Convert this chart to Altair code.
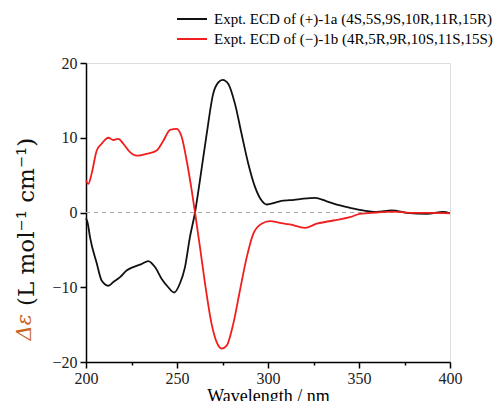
import altair as alt
import pandas as pd

wl_a = [200, 201, 202.2, 205.9, 208.6, 212.3, 215, 218.7, 222.3, 226, 230.5, 234.2, 237.9, 241.6,
        245.2, 248.4, 251.6, 254.4, 257.1, 259.9, 262.6, 266.3, 269.9, 272.7, 275.1, 278.2, 281.9,
        285.5, 289.2, 292.9, 296.5, 299.3, 304.8, 308.4, 312, 317.6, 325.8, 332.3, 339.6, 345,
        352.4, 359.7, 368, 376.2, 387.2, 396.3, 400]
de_a = [-0.8, -1.5, -3.3, -6.8, -9.1, -9.8, -9.3, -8.65, -7.76, -7.3, -6.9, -6.5, -7.3, -8.9,
        -10.0, -10.7, -9.5, -7.3, -3.3, 0.0, 4.3, 10.5, 15.9, 17.4, 17.75, 17.2, 14.5,
        10.5, 6.5, 3.4, 1.6, 1.07, 1.4, 1.6, 1.65, 1.8, 1.96, 1.5, 0.94, 0.63,
        0.27, 0.09, 0.27, -0.04, -0.18, 0.09, -0.1]

wl_b = [200, 201.3, 203.1, 205.9, 208.6, 212.3, 215, 217.8, 220.5, 224.2, 227.8, 233.3, 238.8,
        242.5, 246.2, 249.8, 252.6, 255.3, 258.1, 259.9, 262.6, 265.4, 269, 271.8, 274.5, 277.3,
        280.9, 284.6, 288.3, 291.9, 296.5, 301.1, 306.6, 312, 320.3, 326.7, 335.9, 345, 350.5,
        359.7, 368.8, 378, 389, 400]
de_b = [4.3, 3.84, 5.2, 8.3, 9.2, 10.0, 9.7, 9.86, 9.2, 8.07, 7.6, 7.85, 8.3,
        9.6, 11.06, 11.2, 10.1, 6.96, 2.94, 0.0, -4.6, -9.5, -14.9, -17.35, -18.2, -17.8,
        -14.9, -10.4, -6.0, -2.85, -1.5, -1.16, -1.38, -1.6, -2.05, -1.5, -1.07, -0.63, -0.18,
        0.0, 0.13, -0.04, -0.04, -0.1]

name_a = "Expt. ECD of (+)-1a (4S,5S,9S,10R,11R,15R)"
name_b = "Expt. ECD of (\u2212)-1b (4R,5R,9R,10S,11S,15S)"
color_a = "#111111"
color_b = "#f01e1e"

x_ticks = [200, 225, 250, 275, 300, 325, 350, 375, 400]
y_ticks = [v / 2 for v in range(-40, 41, 5)]

y_title_sym = ["\u0394\u03b5"]
y_title_unit = ["(L mol\u207b\u00b9 cm\u207b\u00b9)"]

df = pd.concat([
    pd.DataFrame({"wl": wl_a, "de": de_a, "series": name_a, "order": range(len(wl_a))}),
    pd.DataFrame({"wl": wl_b, "de": de_b, "series": name_b, "order": range(len(wl_b))}),
])

zero = pd.DataFrame({"y": [0]})

serif = "Liberation Serif"

x = alt.X("wl:Q", scale=alt.Scale(domain=[200, 400], nice=False),
          axis=alt.Axis(title="Wavelength / nm", values=x_ticks,
                        labelExpr="datum.value % 50 === 0 ? datum.label : ''",
                        labelFlush=False, labelOverlap=False,
                        tickSize={"condition": {"test": "datum.value % 50 === 0", "value": 6}, "value": 3},
                        grid=False, titleFontWeight="normal", titleFontSize=18,
                        titleFont=serif, titleColor="black", titlePadding=1,
                        labelFont=serif, labelFontSize=16, labelColor="#222",
                        domainColor="black", domainWidth=1.5, tickColor="black", tickWidth=1.5,
                        labelPadding=2))
y = alt.Y("de:Q", scale=alt.Scale(domain=[-20, 20], nice=False),
          axis=alt.Axis(title=None, values=y_ticks,
                        labelExpr="datum.value % 5 === 0 ? datum.label : ''",
                        labelFlush=False, labelOverlap=False,
                        tickSize={"condition": {"test": "datum.value % 5 === 0", "value": 6}, "value": 3},
                        grid=False,
                        labelFont=serif, labelFontSize=16, labelColor="#222",
                        domainColor="black", domainWidth=1.5, tickColor="black", tickWidth=1.5,
                        labelPadding=3))

lines = alt.Chart(df).mark_line(strokeWidth=1.8, interpolate="monotone").encode(
    x=x, y=y, order="order:Q",
    color=alt.Color("series:N",
                    scale=alt.Scale(domain=[name_a, name_b], range=[color_a, color_b]),
                    legend=None),
)

zline = alt.Chart(zero).mark_rule(color="#aaaaaa", strokeDash=[4, 4], strokeWidth=1).encode(y="y:Q")

# manual legend (placed above the plot, top right)
leg_layers = []
for name, col, ypos in [(name_a, color_a, -44), (name_b, color_b, -24)]:
    ldf = pd.DataFrame({"t": [name]})
    leg_layers.append(alt.Chart(ldf).mark_rule(color=col, strokeWidth=2).encode(
        x=alt.value(91), x2=alt.value(121), y=alt.value(ypos)))
    leg_layers.append(alt.Chart(ldf).mark_text(
        align="left", baseline="middle", font=serif, fontSize=15, color="black"
    ).encode(text="t:N", x=alt.value(128), y=alt.value(ypos)))

t_sym = alt.Chart(pd.DataFrame({"t": y_title_sym})).mark_text(
    angle=270, align="right", baseline="middle", font="DejaVu Serif", fontSize=21,
    fontStyle="italic", color="#c8641e", dy=-2
).encode(text="t:N", x=alt.value(-59), y=alt.value(251))

t_unit = alt.Chart(pd.DataFrame({"t": y_title_unit})).mark_text(
    angle=270, align="left", baseline="middle", font="DejaVu Serif", fontSize=23,
    color="#111111"
).encode(text="t:N", x=alt.value(-59), y=alt.value(243))

chart = alt.layer(zline, lines, t_sym, t_unit, *leg_layers).properties(
    width=364, height=299,
    padding={"left": 78, "top": 55, "right": 46, "bottom": 39},
    autosize=alt.AutoSizeParams(type="none"),
).configure_view(stroke=None).configure(background="white")

chart.save("out.html", embed_options={"renderer": "svg", "actions": False})
